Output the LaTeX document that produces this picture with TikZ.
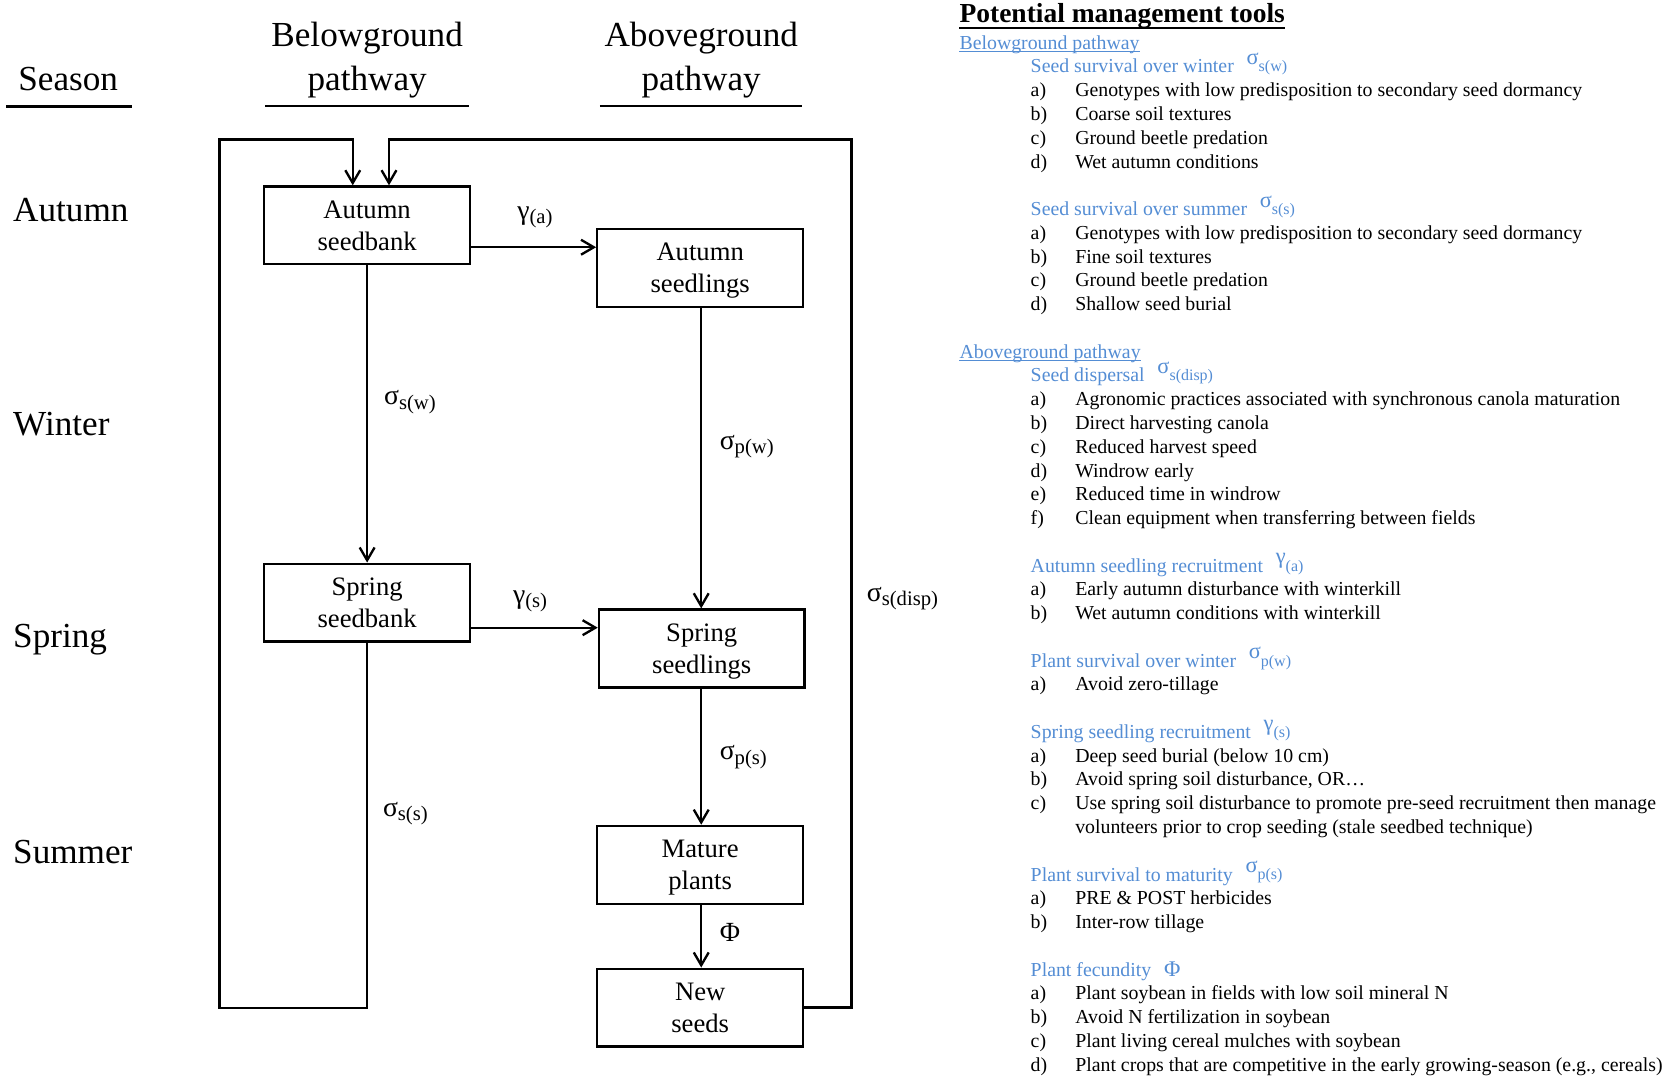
\documentclass[tikz,border=0pt]{standalone}
\usepackage{fontspec}
\setmainfont{Liberation Serif}
\usetikzlibrary{arrows.meta}
\definecolor{mblue}{HTML}{548DD4}
\newcommand{\dlab}[2]{{\fontsize{13}{15}\selectfont #1}\raisebox{-2pt}{\fontsize{9.7}{11}\selectfont #2}}
\newcommand{\hsym}[2]{\hspace{6pt}\raisebox{3.9pt}{\fontsize{10.5}{12}\selectfont #1}\raisebox{0.5pt}{\fontsize{7.5}{9}\selectfont #2}}
\newcommand{\myitem}[2]{\makebox[20.9pt][l]{#1}#2}
\begin{document}
\begin{tikzpicture}[x=0.5pt,y=-0.5pt,
 box/.style={draw, line width=1.1pt, minimum width=96.5pt, minimum height=36.5pt, inner sep=0pt, align=center, font=\fontsize{12.5}{15}\selectfont, text depth=0pt},
 arr/.style={line width=1.1pt, -{Straight Barb[length=6pt,width=7pt]}},
 hline/.style={line width=1.2pt},
 hdr/.style={anchor=base, inner sep=0pt, font=\fontsize{16.5}{19}\selectfont},
 sea/.style={anchor=base west, inner sep=0pt, font=\fontsize{16.5}{19}\selectfont},
 lab/.style={anchor=base west, inner sep=0pt},
 rt/.style={anchor=base west, inner sep=0pt, font=\fontsize{9.3}{11}\selectfont},
 rh/.style={rt, text=mblue},
]
\useasboundingbox (0,0) rectangle (1568,1011);

% column headers
\node[hdr] (hs) at (64,85) {Season};
\node[hdr] (hb1) at (344.5,43.8) {Belowground};
\node[hdr] (hb2) at (344.5,85) {pathway};
\node[hdr] (ha1) at (658,43.8) {Aboveground};
\node[hdr] (ha2) at (658,85) {pathway};
\draw[hline] (6,100) -- (124,100);
\draw[hline] (249,99.5) -- (440,99.5);
\draw[hline] (563,99.5) -- (753,99.5);

% seasons
\node[sea] (sau) at (12,208) {Autumn};
\node[sea] (swi) at (12,409) {Winter};
\node[sea] (ssp) at (12,608) {Spring};
\node[sea] (ssu) at (12,810) {Summer};

% boxes
\node[box] (asb) at (344.5,211.5) {Autumn\\seedbank};
\node[box] (asl) at (657,251.5) {Autumn\\seedlings};
\node[box] (ssb) at (344.5,565.5) {Spring\\seedbank};
\node[box] (ssl) at (658.5,608.5) {Spring\\seedlings};
\node[box] (mp) at (657,811.5) {Mature\\plants};
\node[box] (ns) at (657,945.5) {New\\seeds};

% helper coordinates
\coordinate (ya) at (0,232);
\coordinate (ys) at (0,589);
\coordinate (cx) at (658,0);
\coordinate (lb) at (206,946);
\coordinate (ltop) at (206,131);
\coordinate (rtop) at (799,131);
\coordinate (ina) at ([xshift=-6.75pt]asb.north);
\coordinate (inb) at ([xshift=10.25pt]asb.north);

% connectors
\draw[arr] (asb.south) -- (ssb.north);
\draw[arr] (asb.east |- ya) -- (asl.west |- ya);
\draw[arr] (asl.south -| cx) -- (ssl.north -| cx);
\draw[arr] (ssb.east |- ys) -- (ssl.west |- ys);
\draw[arr] (ssl.south -| cx) -- (mp.north -| cx);
\draw[arr] (mp.south -| cx) -- (ns.north -| cx);
\draw[arr] (ssb.south) |- (lb) |- (ina |- ltop) -- (ina);
\draw[arr] (ns.east) -| (rtop) -- (inb |- rtop) -- (inb);

% labels
\node[lab] (lsw) at (360,380) {\dlab{σ}{s(w)}};
\node[lab] (lga) at (485,206) {\dlab{γ}{(a)}};
\node[lab] (lpw) at (675,422) {\dlab{σ}{p(w)}};
\node[lab] (lgs) at (481,566) {\dlab{γ}{(s)}};
\node[lab] (lsd) at (813,564) {\dlab{σ}{s(disp)}};
\node[lab] (lps) at (675,713) {\dlab{σ}{p(s)}};
\node[lab] (lss) at (359,766) {\dlab{σ}{s(s)}};
\node[lab] (lphi) at (675,883) {\fontsize{13}{15}\selectfont Φ};

% right-hand text
\node[rt, font=\bfseries\fontsize{12.9}{14}\selectfont] (title) at (900,21) {Potential management tools};
\draw[line width=1pt] ([yshift=-2.6pt]title.base west) -- ([yshift=-2.6pt]title.base east);

\node[rh] (bgp) at (900,46) {Belowground pathway};
\draw[mblue, line width=0.5pt] ([yshift=-1pt]bgp.base west) -- ([yshift=-1pt]bgp.base east);

\node[rh] (h1) at (966.8,68.5) {Seed survival over winter\hsym{σ}{s(w)}};
\node[rt] (i1a) at (966.8,91) {\myitem{a)}{Genotypes with low predisposition to secondary seed dormancy}};
\node[rt] (i1b) at (966.8,113.3) {\myitem{b)}{Coarse soil textures}};
\node[rt] (i1c) at (966.8,135.6) {\myitem{c)}{Ground beetle predation}};
\node[rt] (i1d) at (966.8,157.9) {\myitem{d)}{Wet autumn conditions}};

\node[rh] (h2) at (966.8,202.5) {Seed survival over summer\hsym{σ}{s(s)}};
\node[rt] (i2a) at (966.8,224.6) {\myitem{a)}{Genotypes with low predisposition to secondary seed dormancy}};
\node[rt] (i2b) at (966.8,246.9) {\myitem{b)}{Fine soil textures}};
\node[rt] (i2c) at (966.8,269.2) {\myitem{c)}{Ground beetle predation}};
\node[rt] (i2d) at (966.8,291.5) {\myitem{d)}{Shallow seed burial}};

\node[rh] (agp) at (900,336) {Aboveground pathway};
\draw[mblue, line width=0.5pt] ([yshift=-1pt]agp.base west) -- ([yshift=-1pt]agp.base east);

\node[rh] (h3) at (966.8,358.4) {Seed dispersal\hsym{σ}{s(disp)}};
\node[rt] (i3a) at (966.8,380.7) {\myitem{a)}{Agronomic practices associated with synchronous canola maturation}};
\node[rt] (i3b) at (966.8,403) {\myitem{b)}{Direct harvesting canola}};
\node[rt] (i3c) at (966.8,425.3) {\myitem{c)}{Reduced harvest speed}};
\node[rt] (i3d) at (966.8,447.6) {\myitem{d)}{Windrow early}};
\node[rt] (i3e) at (966.8,469.9) {\myitem{e)}{Reduced time in windrow}};
\node[rt] (i3f) at (966.8,492.2) {\myitem{f)}{Clean equipment when transferring between fields}};

\node[rh] (h4) at (966.8,536.8) {Autumn seedling recruitment\hsym{γ}{(a)}};
\node[rt] (i4a) at (966.8,559.1) {\myitem{a)}{Early autumn disturbance with winterkill}};
\node[rt] (i4b) at (966.8,581.4) {\myitem{b)}{Wet autumn conditions with winterkill}};

\node[rh] (h5) at (966.8,626) {Plant survival over winter\hsym{σ}{p(w)}};
\node[rt] (i5a) at (966.8,648.3) {\myitem{a)}{Avoid zero-tillage}};

\node[rh] (h6) at (966.8,692.9) {Spring seedling recruitment\hsym{γ}{(s)}};
\node[rt] (i6a) at (966.8,715.2) {\myitem{a)}{Deep seed burial (below 10 cm)}};
\node[rt] (i6b) at (966.8,737.5) {\myitem{b)}{Avoid spring soil disturbance, OR…}};
\node[rt] (i6c) at (966.8,759.8) {\myitem{c)}{Use spring soil disturbance to promote pre-seed recruitment then manage}};
\node[rt] (i6d) at (1008.6,782.1) {volunteers prior to crop seeding (stale seedbed technique)};

\node[rh] (h7) at (966.8,826.7) {Plant survival to maturity\hsym{σ}{p(s)}};
\node[rt] (i7a) at (966.8,849) {\myitem{a)}{PRE \& POST herbicides}};
\node[rt] (i7b) at (966.8,871.3) {\myitem{b)}{Inter-row tillage}};

\node[rh] (h8) at (966.8,915.9) {Plant fecundity\hspace{6pt}{\fontsize{10.5}{12}\selectfont Φ}};
\node[rt] (i8a) at (966.8,938.2) {\myitem{a)}{Plant soybean in fields with low soil mineral N}};
\node[rt] (i8b) at (966.8,960.5) {\myitem{b)}{Avoid N fertilization in soybean}};
\node[rt] (i8c) at (966.8,982.8) {\myitem{c)}{Plant living cereal mulches with soybean}};
\node[rt] (i8d) at (966.8,1005.1) {\myitem{d)}{Plant crops that are competitive in the early growing-season (e.g., cereals)}};
\end{tikzpicture}
\end{document}
